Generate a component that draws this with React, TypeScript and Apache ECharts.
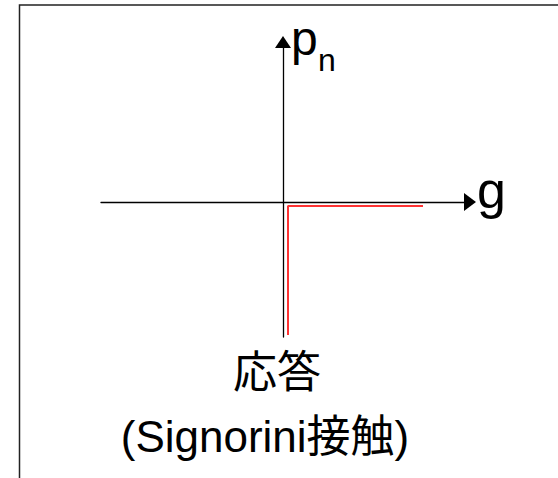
import React, { useEffect, useRef } from "react";
import * as echarts from "echarts";

// Axis extents (arbitrary units, origin at 0)
const xRange = [-1.82, 1.87];
const yRange = [-1.35, 1.6];
// Signorini contact response curve (red)
const responseX = [0.05, 0.05, 1.4];
const responseY = [-1.33, -0.04, -0.04];
// Labels
const xAxisLabel = "g";
const yAxisLabelMain = "p";
const yAxisLabelSub = "n";
const captionLines = ["応答", "(Signorini接触)"];

const FONT = "'Liberation Sans', Arial, 'Noto Sans CJK JP', sans-serif";

export default function App() {
  const ref = useRef<HTMLDivElement>(null);
  useEffect(() => {
    if (!ref.current) return;
    const chart = echarts.init(ref.current, undefined, { renderer: "svg" });
    const data = responseX.map((x, i) => [x, responseY[i]]);
    chart.setOption({
      animation: false,
      backgroundColor: "#ffffff",
      grid: { left: 101, right: 88, top: 42, bottom: 141 },
      xAxis: {
        type: "value",
        min: xRange[0],
        max: xRange[1],
        axisLine: {
          onZero: true,
          lineStyle: { color: "#000", width: 1.3 },
          symbol: ["none", "triangle"],
          symbolSize: [18, 12],
        },
        axisTick: { show: false },
        axisLabel: { show: false },
        splitLine: { show: false },
      },
      yAxis: {
        type: "value",
        min: yRange[0],
        max: yRange[1],
        axisLine: {
          onZero: true,
          lineStyle: { color: "#000", width: 1.3 },
          symbol: ["none", "triangle"],
          symbolSize: [16, 12],
        },
        axisTick: { show: false },
        axisLabel: { show: false },
        splitLine: { show: false },
      },
      series: [
        {
          type: "line",
          data,
          showSymbol: false,
          symbol: "none",
          lineStyle: { color: "#ff3333", width: 2 },
          z: 1,
        },
      ],
      graphic: [
        {
          type: "polyline",
          shape: { points: [[19.5, 478], [19.5, 5], [558, 5]] },
          style: { stroke: "#222", lineWidth: 1.5, fill: "none" },
        },
        {
          type: "text",
          x: 291,
          y: 38,
          style: {
            text: yAxisLabelMain,
            fontSize: 48,
            fontFamily: FONT,
            fill: "#000",
            verticalAlign: "middle",
          },
        },
        {
          type: "text",
          x: 318,
          y: 60,
          style: {
            text: yAxisLabelSub,
            fontSize: 32,
            fontFamily: FONT,
            fill: "#000",
            verticalAlign: "middle",
          },
        },
        {
          type: "text",
          x: 477,
          y: 190,
          style: {
            text: xAxisLabel,
            fontSize: 52,
            fontFamily: FONT,
            fill: "#000",
            verticalAlign: "middle",
          },
        },
        {
          type: "text",
          x: 277,
          y: 372,
          style: {
            text: captionLines[0],
            fontSize: 44,
            fontFamily: FONT,
            fill: "#000",
            align: "center",
            verticalAlign: "middle",
          },
        },
        {
          type: "text",
          x: 265,
          y: 436,
          style: {
            text: captionLines[1],
            fontSize: 44,
            fontFamily: FONT,
            fill: "#000",
            align: "center",
            verticalAlign: "middle",
          },
        },
      ],
    });
    return () => chart.dispose();
  }, []);
  return (
    <div
      ref={ref}
      style={{ position: "fixed", left: 0, top: 0, width: 558, height: 478 }}
    />
  );
}
